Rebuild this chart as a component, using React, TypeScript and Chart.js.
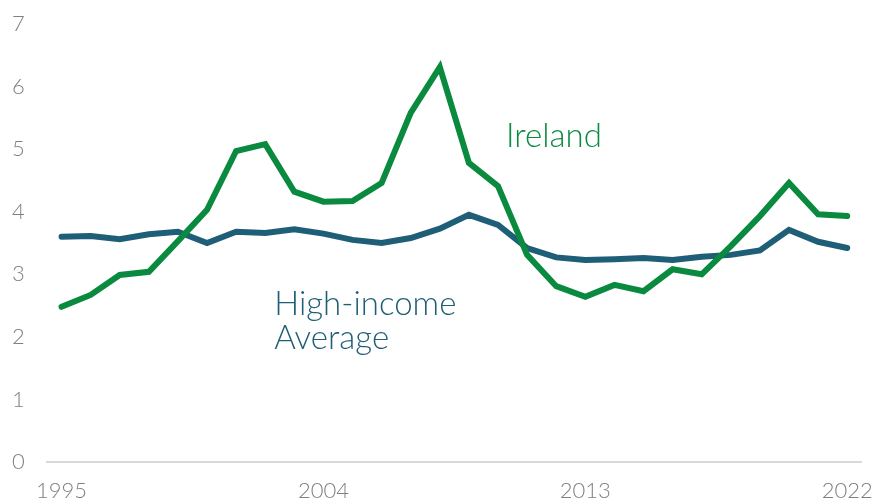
import React, { useEffect, useRef } from "react";
import { Chart, registerables } from "chart.js";

Chart.register(...registerables);

const years: string[] = [];
for (let y = 1995; y <= 2022; y++) years.push(String(y));

const ireland = [
  2.48, 2.67, 2.99, 3.04, 3.53, 4.03, 4.97, 5.08, 4.32, 4.16, 4.17, 4.46, 5.58, 6.31,
  4.78, 4.41, 3.31, 2.81, 2.64, 2.83, 2.73, 3.08, 3.0, 3.45, 3.93, 4.46, 3.96, 3.93,
];
const highIncome = [
  3.6, 3.61, 3.56, 3.64, 3.68, 3.5, 3.68, 3.66, 3.72, 3.65, 3.55, 3.5, 3.58, 3.73,
  3.95, 3.79, 3.42, 3.27, 3.23, 3.24, 3.26, 3.23, 3.28, 3.31, 3.38, 3.71, 3.52, 3.42,
];
const shownTickYears = ["1995", "2004", "2013", "2022"];

const GREEN = "#0A8A3F";
const BLUE = "#1F5E77";
const GREY = "#808080";
const FONT = "Lato, 'Open Sans', sans-serif";

const labelPlugin = {
  id: "seriesLabels",
  afterDatasetsDraw(chart: any) {
    const { ctx, scales } = chart;
    const x = scales.x;
    const y = scales.y;
    ctx.save();
    ctx.font = `300 33px ${FONT}`;
    ctx.textAlign = "left";
    ctx.textBaseline = "alphabetic";
    ctx.fillStyle = GREEN;
    ctx.fillText("Ireland", x.getPixelForValue(15) + 8, y.getPixelForValue(5.03));
    ctx.fillStyle = BLUE;
    const hx = x.getPixelForValue(7) + 9;
    ctx.fillText("High-income", hx, y.getPixelForValue(2.35));
    ctx.fillText("Average", hx, y.getPixelForValue(1.81));
    ctx.restore();
  },
};

export default function App() {
  const ref = useRef<HTMLCanvasElement | null>(null);
  useEffect(() => {
    document.body.style.margin = "0";
    const canvas = ref.current!;
    const chart = new Chart(canvas, {
      type: "line",
      data: {
        labels: years,
        datasets: [
          {
            label: "Ireland",
            data: ireland,
            borderColor: GREEN,
            backgroundColor: GREEN,
            borderWidth: 6,
            pointRadius: 0,
            tension: 0,
            borderCapStyle: "round",
          },
          {
            label: "High-income Average",
            data: highIncome,
            borderColor: BLUE,
            backgroundColor: BLUE,
            borderWidth: 6,
            pointRadius: 0,
            tension: 0,
            borderCapStyle: "round",
          },
        ],
      },
      options: {
        animation: false,
        responsive: false,
        maintainAspectRatio: false,
        layout: { padding: { top: 24, right: 16, left: 12, bottom: 0 } },
        plugins: { legend: { display: false }, tooltip: { enabled: false } },
        scales: {
          x: {
            offset: true,
            grid: { display: false, drawTicks: false },
            border: { display: true, color: "#D9D9D9", width: 2 },
            ticks: {
              autoSkip: false,
              maxRotation: 0,
              padding: 16,
              color: GREY,
              font: { family: FONT, size: 22, weight: "300" },
              callback: (_v: any, i: number) =>
                shownTickYears.includes(years[i]) ? years[i] : "",
            },
            afterFit: (s: any) => {
              s.height = 41;
            },
          },
          y: {
            min: 0,
            max: 7,
            grid: { display: false, drawTicks: false },
            border: { display: false },
            ticks: {
              stepSize: 1,
              padding: 0,
              crossAlign: "far",
              color: GREY,
              font: { family: FONT, size: 22, weight: "300" },
            },
            afterFit: (s: any) => {
              s.width = 35;
            },
          },
        },
      },
      plugins: [labelPlugin],
    });
    return () => chart.destroy();
  }, []);
  return (
    <div style={{ position: "absolute", left: 0, top: 0, width: 889, height: 503 }}>
      <canvas ref={ref} width={889} height={503} style={{ width: 889, height: 503 }} />
    </div>
  );
}
